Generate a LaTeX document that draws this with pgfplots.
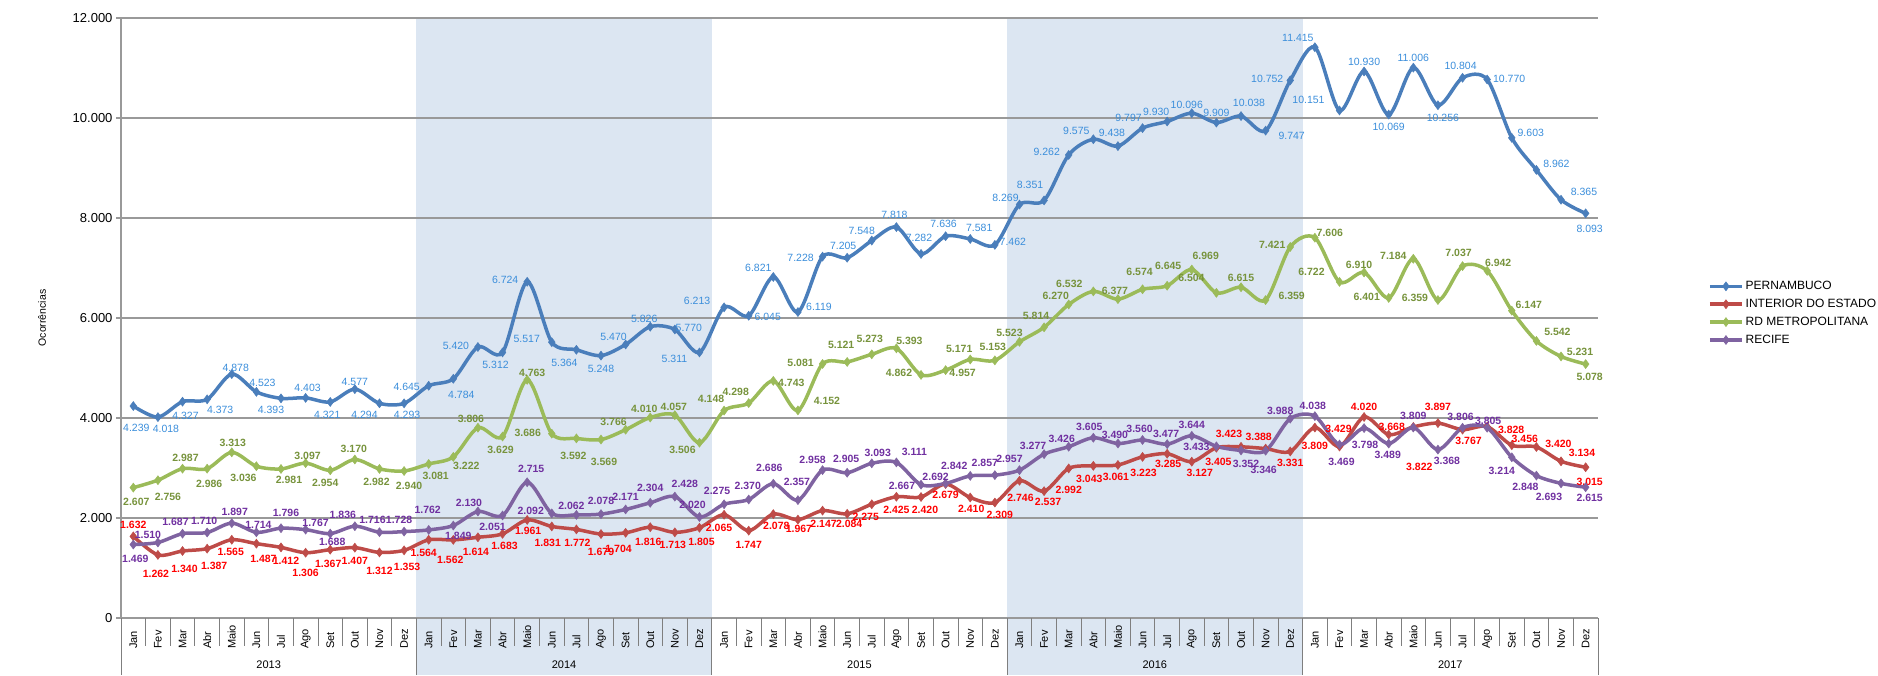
\documentclass[border=0pt]{standalone}
\usepackage{fontspec}
\setmainfont{Liberation Sans}
\usepackage{pgfplots}
\usepackage{pgfplotstable}
\pgfplotsset{compat=1.18}

\definecolor{pernLine}{HTML}{4A7EBB}
\definecolor{pernLab}{HTML}{3B8EDB}
\definecolor{intLine}{HTML}{BE4B48}
\definecolor{intLab}{HTML}{FF0000}
\definecolor{rdLine}{HTML}{9BBB59}
\definecolor{rdLab}{HTML}{77933C}
\definecolor{recLine}{HTML}{7F63A1}
\definecolor{recLab}{HTML}{7030A0}
\definecolor{band}{HTML}{DCE6F2}
\definecolor{gridgray}{HTML}{999999}
\definecolor{sepgray}{HTML}{7F7F7F}

% x = month index (Jan 2013 = 0), dx/dy = label offset in pt
\pgfplotstableread{
x y dx dy
0 4239 3 -22
1 4018 8 -12
2 4327 3 -14
3 4373 13 -11
4 4878 4 6
5 4523 6 9
6 4393 -10 -12
7 4403 2 10
8 4321 -3 -13
9 4577 0 7
10 4294 -15 -12
11 4293 3 -12
12 4645 -22 -1
13 4784 8 -16
14 5420 -22 1
15 5312 -7 -12
16 6724 -22 2
17 5517 -25 3
18 5364 -12 -13
19 5248 0 -13
20 5470 -12 8
21 5826 -6 8
22 5770 14 2
23 5311 -25 -6
24 6213 -27 6
25 6045 19 -1
26 6821 -15 9
27 6119 21 5
28 7228 -22 -1
29 7205 -4 12
30 7548 -10 10
31 7818 -2 12
32 7282 -2 16
33 7636 -2 12
34 7581 9 11
35 7462 18 3
36 8269 -14 7
37 8351 -14 16
38 9262 -22 3
39 9575 -17 8
40 9438 -6 13
41 9797 -14 10
42 9930 -11 10
43 10096 -5 8
44 9909 0 10
45 10038 8 13
46 9747 26 -5
47 10752 -23 2
48 11415 -17 9
49 10151 -31 11
50 10930 0 10
51 10069 0 -12
52 11006 0 10
53 10256 5 -13
54 10804 -2 12
55 10770 22 1
56 9603 19 5
57 8962 20 6
58 8365 23 8
59 8093 4 -16
}\tabPern

\pgfplotstableread{
x y dx dy
0 1632 0 12
1 1262 -2 -19
2 1340 2 -18
3 1387 7 -17
4 1565 -1 -12
5 1487 7 -15
6 1412 5 -13
7 1306 0 -20
8 1367 -2 -14
9 1407 0 -13
10 1312 0 -18
11 1353 3 -17
12 1564 -5 -13
13 1562 -3 -20
14 1614 -2 -15
15 1683 2 -12
16 1961 1 -11
17 1831 -4 -16
18 1772 1 -13
19 1679 0 -18
20 1704 -7 -16
21 1816 -2 -15
22 1713 -2 -13
23 1805 2 -14
24 2065 -5 -13
25 1747 0 -14
26 2078 3 -12
27 1967 1 -9
28 2147 1 -13
29 2084 2 -10
30 2275 -6 -13
31 2425 0 -13
32 2420 4 -13
33 2679 0 -11
34 2410 1 -11
35 2309 5 -12
36 2746 1 -17
37 2537 4 -11
38 2992 0 -21
39 3043 -4 -13
40 3061 -2 -12
41 3223 1 -16
42 3285 1 -10
43 3127 8 -11
44 3405 2 -14
45 3423 -12 13
46 3388 -7 12
47 3331 0 -11
48 3809 0 -18
49 3429 -1 18
50 4020 0 10
51 3668 3 8
52 3822 6 -40
53 3897 0 16
54 3767 6 -11
55 3828 24 -3
56 3456 13 6
57 3420 22 3
58 3134 21 8
59 3015 4 -15
}\tabInt

\pgfplotstableread{
x y dx dy
0 2607 3 -14
1 2756 10 -17
2 2987 3 11
3 2986 2 -15
4 3313 1 9
5 3036 -13 -12
6 2981 8 -11
7 3097 2 7
8 2954 -5 -13
9 3170 -1 11
10 2982 -3 -13
11 2940 5 -15
12 3081 7 -12
13 3222 13 -9
14 3806 -7 9
15 3629 -2 -13
16 4763 5 7
17 3686 -24 1
18 3592 -3 -17
19 3569 3 -22
20 3766 -12 8
21 4010 -6 9
22 4057 -1 8
23 3506 -17 -7
24 4148 -13 12
25 4298 -13 11
26 4743 18 -2
27 4152 29 10
28 5081 -22 1
29 5121 -6 17
30 5273 -2 15
31 5393 13 7
32 4862 -22 2
33 4957 17 -3
34 5171 -11 11
35 5153 -2 13
36 5523 -10 9
37 5814 -8 11
38 6270 -13 9
39 6532 -24 8
40 6377 -3 8
41 6574 -3 17
42 6645 1 20
43 6969 14 14
44 6504 -25 15
45 6615 0 9
46 6359 26 4
47 7421 -18 2
48 7606 15 5
49 6722 -28 10
50 6910 -5 8
51 6401 -22 1
52 7184 -20 3
53 6359 -23 2
54 7037 -4 13
55 6942 11 8
56 6147 17 6
57 5542 21 9
58 5231 19 5
59 5078 4 -13
}\tabRd

\pgfplotstableread{
x y dx dy
0 1469 2 -14
1 1510 -10 8
2 1687 -7 12
3 1710 -3 12
4 1897 3 11
5 1714 2 7
6 1796 5 15
7 1767 10 7
8 1688 2 -8
9 1836 -12 11
10 1716 -7 12
11 1728 -5 12
12 1762 -1 20
13 1849 5 -10
14 2130 -9 9
15 2051 -10 -11
16 2715 4 13
17 2092 -21 3
18 2062 -5 9
19 2078 0 13
20 2171 0 13
21 2304 0 15
22 2428 10 13
23 2020 -7 12
24 2275 -7 13
25 2370 -1 14
26 2686 -4 16
27 2357 -1 18
28 2958 -10 10
29 2905 -1 14
30 3093 6 10
31 3111 18 11
32 2667 -19 -1
33 2692 -10 7
34 2842 -16 10
35 2857 -10 12
36 2957 -10 11
37 3277 -11 8
38 3426 -7 8
39 3605 -4 11
40 3490 -3 9
41 3560 -3 11
42 3477 -1 10
43 3644 0 11
44 3433 -20 -1
45 3352 5 -13
46 3346 -2 -19
47 3988 -10 8
48 4038 -2 10
49 3469 2 -17
50 3798 1 -17
51 3489 -1 -11
52 3809 0 12
53 3368 9 -11
54 3806 -2 11
55 3805 1 7
56 3214 -10 -14
57 2848 -11 -11
58 2693 -12 -14
59 2615 4 -11
}\tabRec

\pgfplotsset{
  serie/.style={smooth, line width=3.5pt, mark=diamond*, mark size=4.5pt,
    mark options={solid, line width=0.5pt},
    nodes near coords,
    visualization depends on={\thisrow{dx} \as \labdx},
    visualization depends on={\thisrow{dy} \as \labdy},
    every node near coord/.append style={anchor=center, inner sep=0pt,
      xshift=\labdx pt, yshift=\labdy pt}},
}

\begin{document}
\begin{tikzpicture}
\begin{axis}[
  at={(121pt,57pt)}, anchor=south west,
  scale only axis, width=1477pt, height=600pt,
  set layers, clip=false,
  xmin=-0.5, xmax=59.5, ymin=0, ymax=12000,
  axis x line*=bottom, axis y line*=left,
  axis line style={draw=gridgray, line width=1.2pt, -},
  xtick={0,...,59},
  xticklabels={Jan,Fev,Mar,Abr,Maio,Jun,Jul,Ago,Set,Out,Nov,Dez,
               Jan,Fev,Mar,Abr,Maio,Jun,Jul,Ago,Set,Out,Nov,Dez,
               Jan,Fev,Mar,Abr,Maio,Jun,Jul,Ago,Set,Out,Nov,Dez,
               Jan,Fev,Mar,Abr,Maio,Jun,Jul,Ago,Set,Out,Nov,Dez,
               Jan,Fev,Mar,Abr,Maio,Jun,Jul,Ago,Set,Out,Nov,Dez},
  xtick style={draw=none},
  xticklabel style={yshift=-26pt, rotate=90, anchor=west, inner sep=0pt,
    font=\fontsize{11}{12}\selectfont},
  ytick={0,2000,...,12000},
  scaled y ticks=false,
  ymajorgrids, grid style={gridgray, line width=1.2pt},
  tick align=outside, major tick length=5pt,
  ytick style={gridgray, line width=1.2pt},
  yticklabel style={font=\fontsize{13}{15}\selectfont},
  ylabel={Ocorrências},
  ylabel style={font=\fontsize{10.5}{12}\selectfont,
    at={(axis description cs:-0.0535,0.5)}, anchor=center},
  legend style={at={(1.0725,0.568)}, anchor=north west, draw=none, fill=none,
    font=\fontsize{12}{14}\selectfont, row sep=4pt,
    legend cell align=left},
  legend image code/.code={\draw[mark repeat=2, mark phase=2]
    plot coordinates {(0pt,0pt) (16pt,0pt) (32pt,0pt)};},
  /pgf/number format/fixed,
  /pgf/number format/precision=0,
  /pgf/number format/1000 sep={.},
  /pgf/number format/assume math mode=true,
]

% shaded years 2014 and 2016
\begin{pgfonlayer}{axis background}
\fill[band] (axis cs:11.5,12000) rectangle ([yshift=-57pt]axis cs:23.5,0);
\fill[band] (axis cs:35.5,12000) rectangle ([yshift=-57pt]axis cs:47.5,0);
\end{pgfonlayer}

\addplot[serie, pernLine,
  nodes near coords style={text=pernLab, font=\fontsize{10.5}{12}\selectfont}]
  table[x=x, y=y] {\tabPern};
\addlegendentry{PERNAMBUCO}

\addplot[serie, intLine,
  nodes near coords style={text=intLab, font=\fontsize{10.5}{12}\selectfont\bfseries}]
  table[x=x, y=y] {\tabInt};
\addlegendentry{INTERIOR DO ESTADO}

\addplot[serie, rdLine,
  nodes near coords style={text=rdLab, font=\fontsize{10.5}{12}\selectfont\bfseries}]
  table[x=x, y=y] {\tabRd};
\addlegendentry{RD METROPOLITANA}

\addplot[serie, recLine,
  nodes near coords style={text=recLab, font=\fontsize{10.5}{12}\selectfont\bfseries}]
  table[x=x, y=y] {\tabRec};
\addlegendentry{RECIFE}

% category separators and year labels
\pgfplotsinvokeforeach{0.5,1.5,...,58.5}{
  \draw[sepgray, line width=0.8pt] (axis cs:#1,0) -- ++(0pt,-28pt);
}
\pgfplotsinvokeforeach{-0.5,11.5,23.5,35.5,47.5,59.5}{
  \draw[sepgray, line width=0.8pt] (axis cs:#1,0) -- ++(0pt,-57pt);
}
\node[font=\fontsize{11}{12}\selectfont] at ([yshift=-47pt]axis cs:5.5,0) {2013};
\node[font=\fontsize{11}{12}\selectfont] at ([yshift=-47pt]axis cs:17.5,0) {2014};
\node[font=\fontsize{11}{12}\selectfont] at ([yshift=-47pt]axis cs:29.5,0) {2015};
\node[font=\fontsize{11}{12}\selectfont] at ([yshift=-47pt]axis cs:41.5,0) {2016};
\node[font=\fontsize{11}{12}\selectfont] at ([yshift=-47pt]axis cs:53.5,0) {2017};
\end{axis}
\pgfresetboundingbox
\path[use as bounding box] (0,0) rectangle (1878pt,675pt);
\end{tikzpicture}
\end{document}
